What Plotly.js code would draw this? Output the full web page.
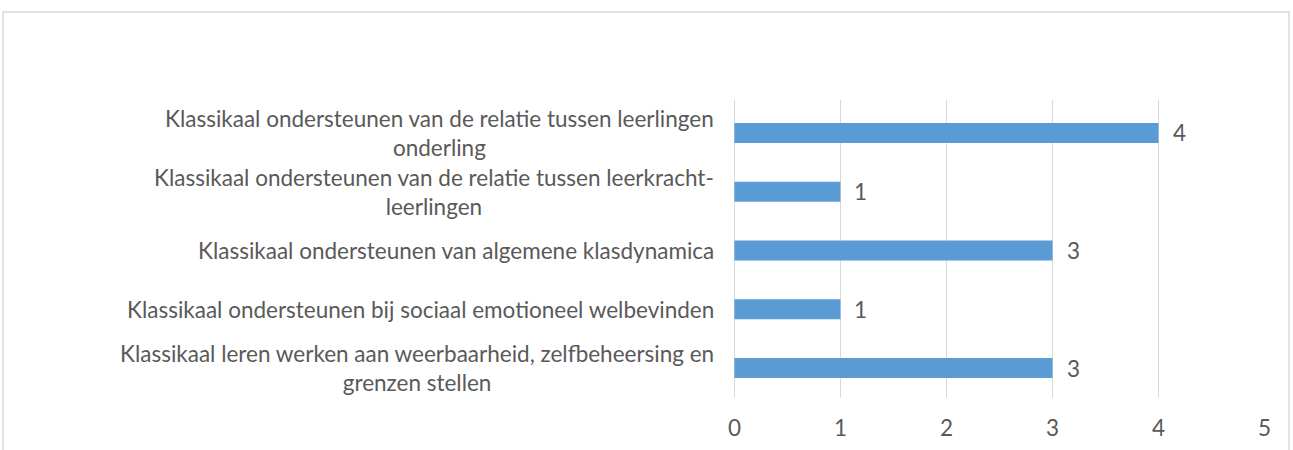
<!DOCTYPE html>
<html>
<head>
<meta charset="utf-8">
<script src="https://cdn.plot.ly/plotly-3.0.1.min.js"></script>
<style>
html,body{margin:0;padding:0;background:#fff;}
#chart{width:1293px;height:450px;}
</style>
</head>
<body>
<div id="chart"></div>
<script>
const categories = [
  "Klassikaal ondersteunen van de relatie tussen leerlingen<br>onderling",
  "Klassikaal ondersteunen van de relatie tussen leerkracht-<br>leerlingen",
  "Klassikaal ondersteunen van algemene klasdynamica",
  "Klassikaal ondersteunen bij sociaal emotioneel welbevinden",
  "Klassikaal leren werken aan weerbaarheid, zelfbeheersing en<br>grenzen stellen"
];
const values = [4, 1, 3, 1, 3];
const xTicks = [0, 1, 2, 3, 4, 5];

const FONT = "Lato, 'Open Sans', sans-serif";
const TXT = "#595959";
const FS = 22.5;

const trace = {
  type: "bar",
  orientation: "h",
  x: values,
  y: categories,
  marker: {color: "#5b9bd5"},
  width: 0.34,
  hoverinfo: "none"
};

const annotations = [];
categories.forEach((c, i) => {
  annotations.push({
    xref: "paper", yref: "y", x: 0, y: c,
    xanchor: "right", yanchor: "middle", xshift: -18,
    text: c, showarrow: false, align: "center",
    font: {family: FONT, size: FS, color: TXT}
  });
  annotations.push({
    xref: "x", yref: "y", x: values[i], y: c,
    xanchor: "left", yanchor: "middle", xshift: 12,
    text: String(values[i]), showarrow: false,
    font: {family: FONT, size: FS, color: TXT}
  });
});

const layout = {
  width: 1293, height: 450,
  margin: {l: 734, r: 28, t: 100, b: 52},
  paper_bgcolor: "#ffffff", plot_bgcolor: "#ffffff",
  showlegend: false,
  xaxis: {
    range: [-0.004, 5.004], tickvals: xTicks, ticktext: xTicks.map(String),
    showgrid: true, gridcolor: "#d9d9d9", gridwidth: 1.5,
    zeroline: true, zerolinecolor: "#d9d9d9", zerolinewidth: 1.5,
    showline: false, ticks: "",
    ticklabelstandoff: 14,
    tickfont: {family: FONT, size: FS, color: TXT},
    fixedrange: true
  },
  yaxis: {
    type: "category", range: [4.51, -0.56],
    showticklabels: false, showgrid: false, zeroline: false,
    showline: false, ticks: "", fixedrange: true
  },
  annotations: annotations,
  shapes: [{
    type: "rect", xref: "paper", yref: "paper",
    x0: (3 - 734) / 531, x1: (1289 - 734) / 531,
    y0: (398 - 470) / 298, y1: (398 - 12) / 298,
    line: {color: "#d9d9d9", width: 1.5}, fillcolor: "rgba(0,0,0,0)",
    layer: "below"
  }],
  font: {family: FONT, color: TXT}
};

Plotly.newPlot("chart", [trace], layout, {displayModeBar: false, staticPlot: true});
</script>
</body>
</html>
